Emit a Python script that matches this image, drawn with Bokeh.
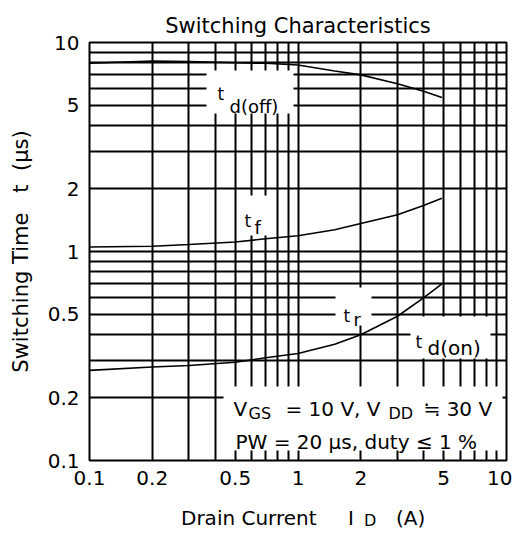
from bokeh.plotting import figure
from bokeh.models import Range1d, FixedTicker, CustomJSTickFormatter, Label, BoxAnnotation, Div
from bokeh.layouts import column
from bokeh.embed import file_html
from bokeh.resources import INLINE

# ---- data ----
id_td_off = [0.1, 0.2, 0.3, 0.5, 0.7, 1.0, 1.5, 2.0, 3.0, 4.0, 4.9]
t_td_off = [7.95, 8.15, 8.1, 8.0, 7.95, 7.8, 7.3, 7.0, 6.35, 5.85, 5.45]

id_tf = [0.1, 0.2, 0.3, 0.5, 0.7, 1.0, 1.5, 2.0, 3.0, 4.0, 4.9]
t_tf = [1.05, 1.06, 1.08, 1.11, 1.15, 1.19, 1.27, 1.36, 1.5, 1.66, 1.8]

id_tr = [0.1, 0.2, 0.3, 0.5, 0.7, 1.0, 1.5, 2.0, 3.0, 4.0, 4.9]
t_tr = [0.27, 0.28, 0.285, 0.295, 0.31, 0.325, 0.36, 0.40, 0.49, 0.6, 0.7]

x_major = [0.1, 0.2, 0.5, 1, 2, 5, 10]
x_minor = [0.3, 0.4, 0.6, 0.7, 0.8, 0.9, 3, 4, 6, 7, 8, 9]
y_major = [0.1, 0.2, 0.5, 1, 2, 5, 10]
y_minor = [0.3, 0.4, 0.6, 0.7, 0.8, 0.9, 3, 4, 6, 7, 8, 9]

FONT = "DejaVu Sans"
NB = "\u00a0"

p = figure(x_axis_type="log", y_axis_type="log",
           x_range=Range1d(0.1, 10), y_range=Range1d(0.1, 10),
           width=512, height=498,
           min_border_left=89, min_border_right=6,
           min_border_top=42, min_border_bottom=38,
           output_backend="svg", toolbar_location=None,
           title="Switching Characteristics")

p.background_fill_color = "white"
p.border_fill_color = "white"
p.outline_line_color = "black"
p.outline_line_width = 2

p.title.align = "center"
p.title.text_font = FONT
p.title.text_font_size = "21px"
p.title.text_font_style = "normal"
p.title.text_color = "black"
p.title.standoff = 10

fmt = CustomJSTickFormatter(code="return tick.toString()")
for ax, maj, mnr in ((p.xaxis[0], x_major, x_minor), (p.yaxis[0], y_major, y_minor)):
    ax.ticker = FixedTicker(ticks=maj, minor_ticks=mnr)
    ax.formatter = fmt
    ax.axis_line_color = None
    ax.major_tick_line_color = None
    ax.minor_tick_line_color = None
    ax.major_tick_in = 0
    ax.major_tick_out = 0
    ax.minor_tick_in = 0
    ax.minor_tick_out = 0
    ax.major_label_text_font = FONT
    ax.major_label_text_font_size = "20px"
    ax.major_label_text_color = "black"
    ax.major_label_standoff = 10

p.yaxis.axis_label = "Switching Time" + NB * 3 + "t" + NB * 2 + "(µs)"
p.yaxis.axis_label_text_font = FONT
p.yaxis.axis_label_text_font_size = "21px"
p.yaxis.axis_label_text_font_style = "normal"
p.yaxis.axis_label_text_color = "black"
p.yaxis.axis_label_standoff = 12

for g in (p.xgrid[0], p.ygrid[0]):
    g.grid_line_color = "black"
    g.grid_line_width = 2
    g.grid_line_alpha = 1
    g.minor_grid_line_color = "black"
    g.minor_grid_line_width = 2

# curves
p.line(id_td_off, t_td_off, line_color="black", line_width=1.6)
p.line(id_tf, t_tf, line_color="black", line_width=1.6)
p.line(id_tr, t_tr, line_color="black", line_width=1.6)

# helpers: reference image pixel -> frame screen coords
def sx(px):
    return px - 91

def sy(py):
    return 462 - py

def wbox(x0, x1, y0, y1):
    p.add_layout(BoxAnnotation(left=sx(x0), right=sx(x1), top=sy(y0), bottom=sy(y1),
                               left_units="screen", right_units="screen",
                               top_units="screen", bottom_units="screen",
                               fill_color="white", fill_alpha=1, line_color=None))

def lab(text, px, py, size="20px", align="left"):
    p.add_layout(Label(x=sx(px), y=sy(py), x_units="screen", y_units="screen",
                       text=text, text_font=FONT, text_font_size=size,
                       text_color="black", text_align=align,
                       text_baseline="alphabetic"))

# white label boxes
wbox(208, 295, 72, 115)     # t d(off)
wbox(240, 276, 197, 237)    # t f
wbox(337, 373, 289, 327)    # t r
wbox(412, 492, 318, 360)    # t d(on)
wbox(225, 504, 388, 452)    # conditions

# curve labels
lab("t", 219, 95, "17px")
lab("d(off)", 231, 108, "18px")
lab("t", 246, 222, "17px")
lab("f", 256, 229, "18px")
lab("t", 345, 317, "17px")
lab("r", 355, 321, "18px")
lab("t", 417, 343, "17px")
lab("d(on)", 429, 349, "20px")

# conditions
lab("V", 235, 410)
lab("GS", 250, 415, "16px")
lab("= 10 V, V", 287, 410)
lab("DD", 390, 415, "16px")
lab("≒ 30 V", 425, 410)
lab("PW = 20 µs, duty ≤ 1 %", 237, 443)

# x-axis title (with subscript) below the plot
span = ('<span style="position:absolute; left:{}px; top:{}px; font-size:{}px; '
        'line-height:{}px; white-space:nowrap;">{}</span>')
xlabel = Div(
    text=('<div style="position:relative; width:512px; height:32px; '
          'font-family:\'DejaVu Sans\'; color:black;">'
          + span.format(181, 9, 20, 23, "Drain Current")
          + span.format(348, 9, 20, 23, "I")
          + span.format(364, 13, 16, 19, "D")
          + span.format(396, 9, 20, 23, "(A)")
          + '</div>'),
    width=512, height=32, margin=(0, 0, 0, 0))

layout = column(p, xlabel, spacing=0)

open("out.html", "w").write(file_html(layout, INLINE))
